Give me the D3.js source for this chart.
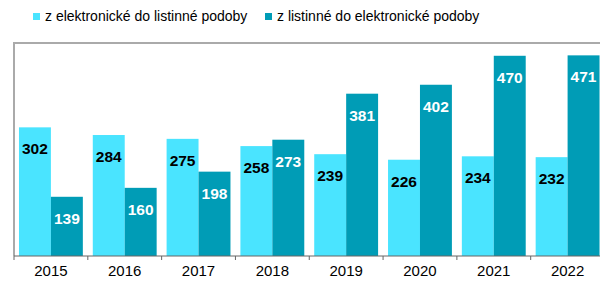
<!DOCTYPE html>
<html><head><meta charset="utf-8">
<script src="https://cdn.jsdelivr.net/npm/d3@7"></script>
<style>body{margin:0;background:#fff}svg{display:block;font-family:"Liberation Sans",Arial,sans-serif}</style>
</head><body>
<svg id="c" width="600" height="281"></svg>
<script>
const categories = ["2015","2016","2017","2018","2019","2020","2021","2022"];
const seriesNames = ["z elektronické do listinné podoby","z listinné do elektronické podoby"];
const elToPaper = [302,284,275,258,239,226,234,232];
const paperToEl = [139,160,198,273,381,402,470,471];
const colors = ["#4ae4ff","#009cb6"];
const labelColors = ["#000","#fff"];

const svg = d3.select("#c");
const m = {l:14, t:43, r:-4.5, b:25};
const W = 600 - m.l - m.r, H = 281 - m.t - m.b;
const x = d3.scaleBand().domain(categories).range([m.l, m.l+W]).paddingInner(0).paddingOuter(0);
const y = d3.scaleLinear().domain([0,500]).range([m.t+H, m.t]);
const inner = d3.scaleBand().domain([0,1]).range([0, x.bandwidth()]).paddingOuter(0.0677*2.3).paddingInner(0);

// frame
svg.append("path").attr("d", `M${m.l},${y(0)}V${m.t}H600`).attr("fill","none").attr("stroke","#aaa").attr("stroke-width",2);

const series = [elToPaper, paperToEl];
series.forEach((vals, si) => {
  const g = svg.append("g");
  g.selectAll("rect").data(categories).join("rect")
    .attr("x", d => x(d) + inner(si))
    .attr("y", (d,i) => y(vals[i]))
    .attr("width", inner.bandwidth())
    .attr("height", (d,i) => y(0) - y(vals[i]))
    .attr("fill", colors[si]);
  g.selectAll("text").data(categories).join("text")
    .attr("x", d => x(d) + inner(si) + inner.bandwidth()/2)
    .attr("y", (d,i) => y(vals[i]) + 27)
    .attr("text-anchor","middle")
    .attr("font-weight","bold").attr("font-size",15.5)
    .attr("fill", labelColors[si])
    .text((d,i) => vals[i]);
});

// x axis
const ax = svg.append("g").attr("transform",`translate(0,${y(0)})`);
ax.append("line").attr("x1",m.l).attr("x2",600).attr("stroke","#666").attr("stroke-width",1);
const bounds = categories.map(c => x(c)).concat([x.range()[1]]);
ax.selectAll("line.t").data(bounds).join("line").attr("class","t")
  .attr("x1",d=>d).attr("x2",d=>d).attr("y1",0).attr("y2",4).attr("stroke","#666");
ax.selectAll("text").data(categories).join("text")
  .attr("x", d => x(d)+x.bandwidth()/2).attr("y",20)
  .attr("text-anchor","middle").attr("font-size",15).attr("fill","#000").text(d=>d);

// legend
const legX = [33, 265];
seriesNames.forEach((n,i) => {
  svg.append("rect").attr("x",legX[i]).attr("y",13).attr("width",7).attr("height",7).attr("fill",colors[i]);
  svg.append("text").attr("x",legX[i]+12).attr("y",21).attr("font-size",14).attr("fill","#000").text(n);
});
</script>
</body></html>
